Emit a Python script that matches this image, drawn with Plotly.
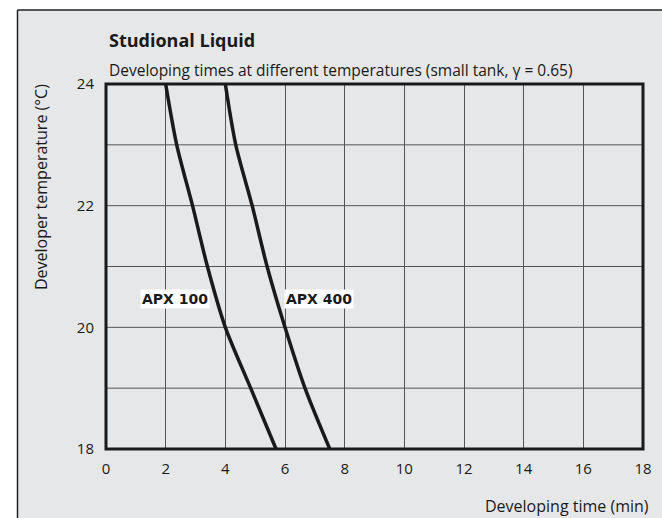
import plotly.graph_objects as go

# Data
temps = [24, 23, 22, 21, 20, 19, 18]
apx100_times = [2.0, 2.37, 2.9, 3.4, 4.0, 4.85, 5.7]
apx400_times = [4.0, 4.35, 4.9, 5.4, 6.0, 6.67, 7.5]
x_ticks = [0, 2, 4, 6, 8, 10, 12, 14, 16, 18]
y_ticks = [18, 20, 22, 24]
series_names = ["APX 100", "APX 400"]
label_pos = [(2.31, 20.47), (7.14, 20.47)]

AFONT = "Open Sans, Noto Sans, sans-serif"
BG = "#e6e7e8"
INK = "#1a1a1a"

fig = go.Figure()
for name, xs in zip(series_names, [apx100_times, apx400_times]):
    fig.add_trace(go.Scatter(
        x=xs, y=temps, mode="lines", name=name,
        line=dict(color=INK, width=3.5, shape="spline", smoothing=0.8),
        hoverinfo="skip", showlegend=False))

for name, (lx, ly) in zip(series_names, label_pos):
    fig.add_annotation(x=lx, y=ly, text="<b>%s</b>" % name, showarrow=False,
                       font=dict(family="DejaVu Sans, Verdana, sans-serif", size=14, color=INK),
                       bgcolor="white", borderpad=1)

# Gray panel and its border
fig.add_shape(type="rect", xref="paper", yref="paper", x0=-0.1648, x1=1.2, y0=-0.3, y1=1.2027,
              fillcolor=BG, line=dict(width=0), layer="below")
fig.add_shape(type="line", xref="paper", yref="paper", x0=-0.1648, x1=-0.1648, y0=-0.3, y1=1.2027,
              line=dict(color="#222", width=1.5), layer="below")
fig.add_shape(type="line", xref="paper", yref="paper", x0=-0.1648, x1=1.2, y0=1.2027, y1=1.2027,
              line=dict(color="#222", width=1.5), layer="below")
# horizontal grid every 1 degree
for yv in [19, 20, 21, 22, 23]:
    fig.add_shape(type="line", xref="x domain", yref="y", x0=0, x1=1, y0=yv, y1=yv,
                  line=dict(color="#555", width=1), layer="below")
# Plot frame
fig.add_shape(type="rect", xref="paper", yref="paper", x0=0, x1=1, y0=0, y1=1,
              line=dict(color=INK, width=3), layer="above")

fig.add_annotation(xref="paper", yref="paper", x=0.002, y=1.1205, xanchor="left", yanchor="middle",
                   text="<b>Studional Liquid</b>", showarrow=False,
                   font=dict(family=AFONT, size=18, color=INK))
fig.add_annotation(xref="paper", yref="paper", x=0.002, y=1.0384, xanchor="left", yanchor="middle",
                   text="Developing times at different temperatures (small tank, γ = 0.65)", showarrow=False,
                   font=dict(family=AFONT, size=15.5, color=INK))
fig.add_annotation(xref="paper", yref="paper", x=-0.1209, y=0.7178, xanchor="center", yanchor="middle",
                   text="Developer temperature (°C)", textangle=-90, showarrow=False,
                   font=dict(family=AFONT, size=16, color=INK))
fig.add_annotation(xref="paper", yref="paper", x=1.0147, y=-0.156, xanchor="right", yanchor="middle",
                   text="Developing time (min)", showarrow=False,
                   font=dict(family=AFONT, size=16, color=INK))

fig.update_xaxes(range=[0, 18], tickvals=x_ticks, ticktext=[str(v) for v in x_ticks],
                 showgrid=True, gridcolor="#555", gridwidth=1, zeroline=False,
                 showline=False, ticks="outside", ticklen=6, tickcolor="rgba(0,0,0,0)",
                 tickfont=dict(family=AFONT, size=15, color=INK), fixedrange=True)
fig.update_yaxes(range=[18, 24], tickvals=y_ticks, ticktext=[str(v) for v in y_ticks],
                 showgrid=False, zeroline=False, showline=False,
                 ticks="outside", ticklen=8, tickcolor="rgba(0,0,0,0)",
                 tickfont=dict(family=AFONT, size=15, color=INK), fixedrange=True)

fig.update_layout(
    width=662, height=518,
    margin=dict(l=106, r=10, t=84, b=69),
    paper_bgcolor="white", plot_bgcolor="white",
    showlegend=False,
)
fig.write_html("out.html", config={"displayModeBar": False},
               post_script="document.body.style.margin='0';document.body.style.overflow='hidden';")
